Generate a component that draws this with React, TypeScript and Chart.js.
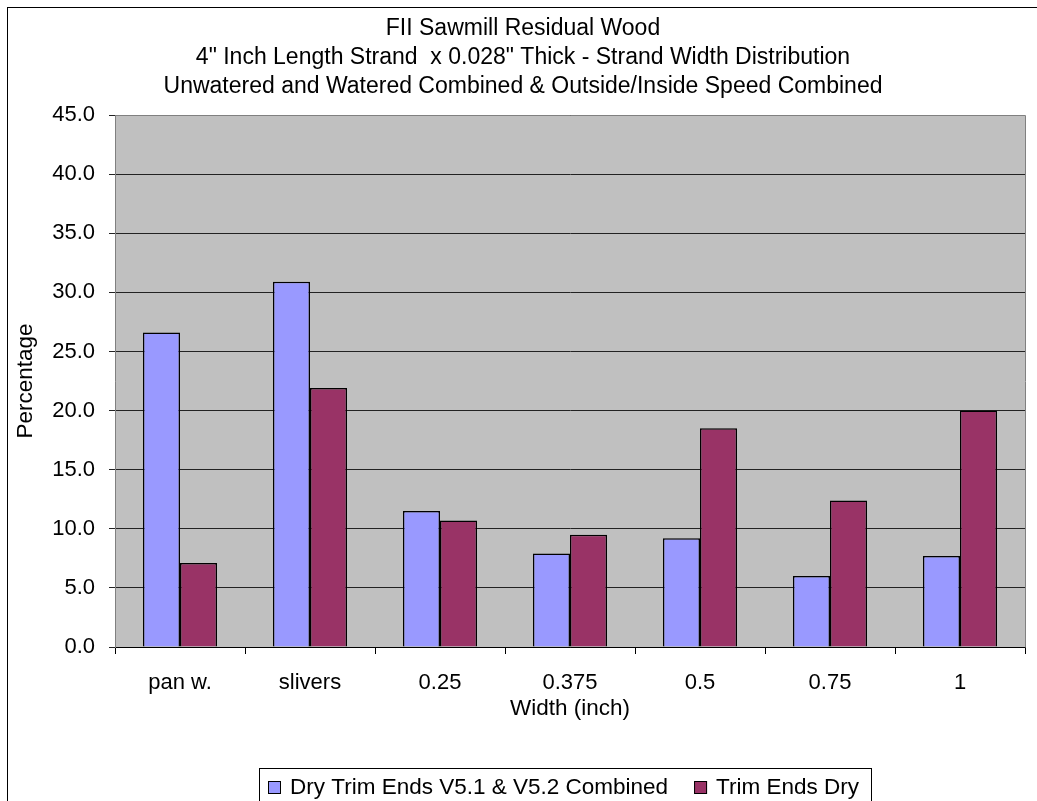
import React, { useEffect, useRef } from "react";
import { Chart, registerables } from "chart.js";

Chart.register(...registerables);

const titleLines = [
  "FII Sawmill Residual Wood",
  "4\" Inch Length Strand  x 0.028\" Thick - Strand Width Distribution",
  "Unwatered and Watered Combined & Outside/Inside Speed Combined",
];
const categories = ["pan w.", "slivers", "0.25", "0.375", "0.5", "0.75", "1"];
const seriesNames = ["Dry Trim Ends V5.1 & V5.2 Combined", "Trim Ends Dry"];
const dryTrimEnds = [26.6, 30.9, 11.5, 7.9, 9.2, 6.0, 7.7];
const trimEndsDry = [7.1, 21.9, 10.7, 9.5, 18.5, 12.4, 20.0];
const seriesColors = ["#9999FF", "#993366"];
const yMin = 0;
const yMax = 45;
const yStep = 5;

const FONT = "'Liberation Sans', Arial, sans-serif";

const decorPlugin = {
  id: "decor",
  beforeDraw(chart: any) {
    const { ctx, chartArea } = chart;
    ctx.save();
    ctx.fillStyle = "#FFFFFF";
    ctx.fillRect(0, 0, chart.width, chart.height);
    // outer frame
    ctx.strokeStyle = "#000000";
    ctx.lineWidth = 1;
    ctx.strokeRect(7.5, 7.5, chart.width + 20, chart.height + 20);
    // plot background
    ctx.fillStyle = "#C0C0C0";
    ctx.fillRect(
      chartArea.left,
      chartArea.top,
      chartArea.right - chartArea.left,
      chartArea.bottom - chartArea.top
    );
    // title
    ctx.fillStyle = "#000000";
    ctx.font = `23px ${FONT}`;
    ctx.textAlign = "center";
    ctx.textBaseline = "alphabetic";
    const baselines = [35, 64, 93];
    titleLines.forEach((t, i) => ctx.fillText(t, 523, baselines[i]));
    ctx.restore();
  },
  afterDraw(chart: any) {
    const { ctx, chartArea } = chart;
    ctx.save();
    // plot border (top/right)
    ctx.strokeStyle = "#808080";
    ctx.lineWidth = 1;
    ctx.beginPath();
    ctx.moveTo(Math.round(chartArea.left) + 0.5, Math.round(chartArea.top) + 0.5);
    ctx.lineTo(Math.round(chartArea.right) + 0.5, Math.round(chartArea.top) + 0.5);
    ctx.lineTo(Math.round(chartArea.right) + 0.5, Math.round(chartArea.bottom) + 0.5);
    ctx.stroke();

    // legend
    const boxX = 259.5;
    const boxY = 768.5;
    ctx.strokeStyle = "#000000";
    ctx.strokeRect(boxX, boxY, 612, 60);
    ctx.font = `22.5px ${FONT}`;
    ctx.textAlign = "left";
    ctx.textBaseline = "middle";
    const cy = 787;
    let x = 268;
    chart.data.datasets.forEach((ds: any) => {
      ctx.fillStyle = ds.backgroundColor;
      ctx.fillRect(x, cy - 6, 13, 13);
      ctx.strokeStyle = "#000000";
      ctx.strokeRect(x + 0.5, cy - 5.5, 12, 12);
      ctx.fillStyle = "#000000";
      ctx.fillText(ds.label, x + 22, cy + 1);
      const w = ctx.measureText(ds.label).width;
      x = x + 22 + w + 26;
    });
    ctx.restore();
  },
};

export default function App() {
  const canvasRef = useRef<HTMLCanvasElement | null>(null);

  useEffect(() => {
    if (!canvasRef.current) return;
    const chart = new Chart(canvasRef.current, {
      type: "bar",
      data: {
        labels: categories,
        datasets: [
          {
            label: seriesNames[0],
            data: dryTrimEnds,
            backgroundColor: seriesColors[0],
            borderColor: "#000000",
            borderWidth: 1.5,
          },
          {
            label: seriesNames[1],
            data: trimEndsDry,
            backgroundColor: seriesColors[1],
            borderColor: "#000000",
            borderWidth: 1.5,
          },
        ],
      },
      options: {
        responsive: false,
        animation: false,
        devicePixelRatio: 1,
        layout: { padding: { left: 0, top: 115, right: 12, bottom: 79 } },
        datasets: {
          bar: { categoryPercentage: 0.57, barPercentage: 1.0 },
        },
        plugins: {
          legend: { display: false },
          title: { display: false },
          tooltip: { enabled: false },
        },
        scales: {
          x: {
            grid: {
              display: true,
              drawOnChartArea: false,
              drawTicks: true,
              tickLength: 7,
              color: "#000000",
              offset: true,
            },
            border: { display: true, color: "#000000", width: 1 },
            ticks: {
              color: "#000000",
              font: { family: FONT, size: 22 },
              padding: 16,
              maxRotation: 0,
              autoSkip: false,
            },
            title: {
              display: true,
              text: "Width (inch)",
              color: "#000000",
              font: { family: FONT, size: 22.5 },
              padding: { top: 0, bottom: 0 },
            },
            afterFit(scale: any) {
              scale.height = 75;
            },
          },
          y: {
            min: yMin,
            max: yMax,
            grid: {
              color: "#222222",
              drawTicks: true,
              tickLength: 6,
              lineWidth: 1,
            },
            border: { display: true, color: "#808080", width: 1 },
            ticks: {
              stepSize: yStep,
              color: "#000000",
              font: { family: FONT, size: 22 },
              padding: 14,
              callback: (v: any) => Number(v).toFixed(1),
            },
            title: {
              display: true,
              text: "Percentage",
              color: "#000000",
              font: { family: FONT, size: 22.5 },
              padding: { top: 12, bottom: 0 },
            },
            afterFit(scale: any) {
              scale.width = 115;
            },
          },
        },
      },
      plugins: [decorPlugin],
    });
    return () => chart.destroy();
  }, []);

  return (
    <div style={{ position: "absolute", left: 0, top: 0, width: 1037, height: 801 }}>
      <canvas ref={canvasRef} width={1037} height={801} style={{ display: "block" }} />
    </div>
  );
}
